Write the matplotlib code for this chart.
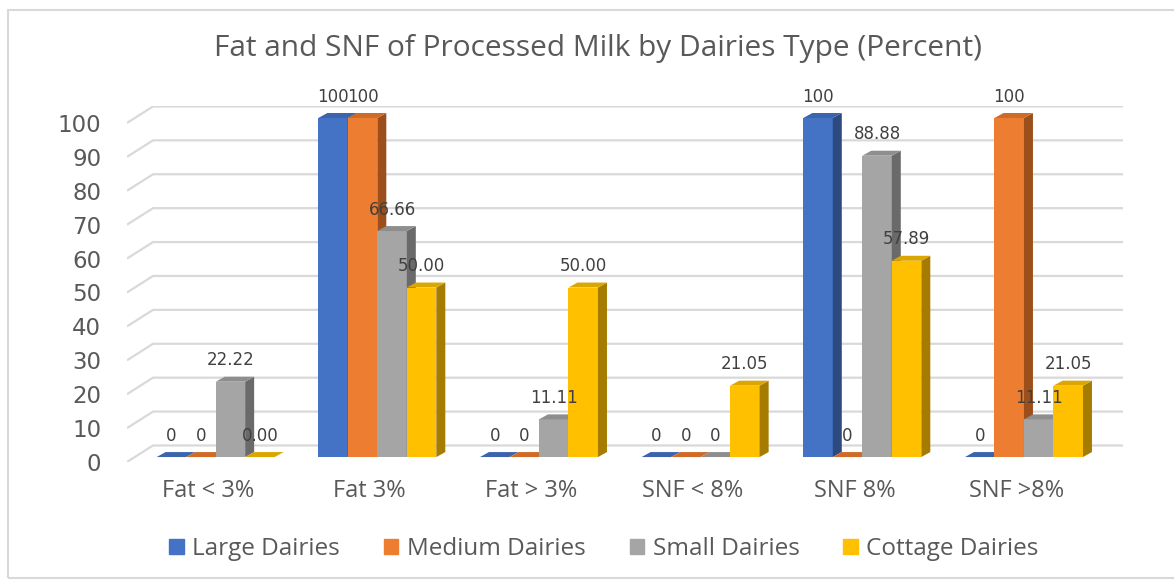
import matplotlib.pyplot as plt
from matplotlib.patches import Patch, Rectangle

categories = ['Fat < 3%', 'Fat 3%', 'Fat > 3%', 'SNF < 8%', 'SNF 8%', 'SNF >8%']
series_names = ['Large Dairies', 'Medium Dairies', 'Small Dairies', 'Cottage Dairies']
large = [0, 100, 0, 0, 100, 0]
medium = [0, 100, 0, 0, 0, 100]
small = [22.22, 66.66, 11.11, 0, 88.88, 11.11]
cottage = [0.00, 50.00, 50.00, 21.05, 57.89, 21.05]
label_formats = ['{:g}', '{:g}', '{:g}', '{:.2f}']
y_ticks = list(range(0, 101, 10))

series = [large, medium, small, cottage]
# front, top, side colours for each series
colors = [
    ('#4472C4', '#3b64ad', '#2c4a80'),
    ('#ED7D31', '#cf6a27', '#9c4f1b'),
    ('#A5A5A5', '#8e8e8e', '#6a6a6a'),
    ('#FFC000', '#dca600', '#a67c00'),
]
text_grey = '#595959'
grid_grey = '#d9d9d9'

# fake 3d: depth vector of the whole plot box, in data units
DX, DY = 0.161, 4.87
bar_w = 0.1825
bar_dx, bar_dy = 0.0557, 1.47
z0x, z0y = 0.3 * DX, 0.3 * DY

fig = plt.figure(figsize=(11.74, 5.82), dpi=100)
ax = fig.add_axes([127 / 1174, 1 - 462 / 582, (1123 - 127) / 1174, (462 - 106) / 582])
ax.set_xlim(-0.5, 5.5 + DX)
ax.set_ylim(0, 105)
ax.set_facecolor('none')
for s in ax.spines.values():
    s.set_visible(False)

# gridlines: short diagonal on the left wall, then along the back wall
for v in y_ticks:
    ax.plot([-0.5, -0.5 + DX, 5.5 + DX], [v, v + DY, v + DY],
            color=grid_grey, lw=1.6, zorder=1, solid_capstyle='butt')

for i in range(len(categories)):
    for j, vals in enumerate(series):
        v = vals[i]
        x0 = i + z0x + (j - 2) * bar_w
        x1 = x0 + bar_w
        y0 = z0y
        y1 = z0y + v
        front, top, side = colors[j]
        z = 2 + j
        if v > 0:
            ax.fill([x0, x1, x1, x0], [y0, y0, y1, y1], color=front, lw=0, zorder=z)
            ax.fill([x1, x1 + bar_dx, x1 + bar_dx, x1],
                    [y0, y0 + bar_dy, y1 + bar_dy, y1], color=side, lw=0, zorder=z)
        ax.fill([x0, x1, x1 + bar_dx, x0 + bar_dx],
                [y1, y1, y1 + bar_dy, y1 + bar_dy], color=top, lw=0, zorder=z)
        ax.text((x0 + x1) / 2, y1 + 4.8, label_formats[j].format(v),
                ha='center', va='baseline', fontsize=12, color='#404040',
                family='DejaVu Sans', zorder=10)

ax.set_yticks(y_ticks)
ax.set_yticklabels([str(v) for v in y_ticks], fontsize=16.5, color=text_grey,
                   family='DejaVu Sans')
ax.set_xticks(range(len(categories)))
ax.set_xticklabels(categories, fontsize=17, color=text_grey, family='Open Sans')
ax.tick_params(axis='y', length=0, pad=18.5)
ax.tick_params(axis='x', length=0, pad=12.5)

fig.text(598 / 1174, 1 - 48.5 / 582, 'Fat and SNF of Processed Milk by Dairies Type (Percent)',
         ha='center', va='center', fontsize=21.5, color=text_grey, family='Open Sans')

handles = [Patch(color=c[0]) for c in colors]
fig.legend(handles, series_names, loc='center', bbox_to_anchor=(604 / 1174, 1 - 549 / 582),
           ncol=4, frameon=False, handlelength=0.6, handleheight=0.6,
           handletextpad=0.35, columnspacing=1.8,
           prop={'family': 'Open Sans', 'size': 17.5}, labelcolor=text_grey)

fig.add_artist(Rectangle((8 / 1174, 4 / 582), 1.2, 1 - 14 / 582, transform=fig.transFigure,
                         fill=False, ec=grid_grey, lw=1.5))

fig.savefig('out.png', dpi=100)
